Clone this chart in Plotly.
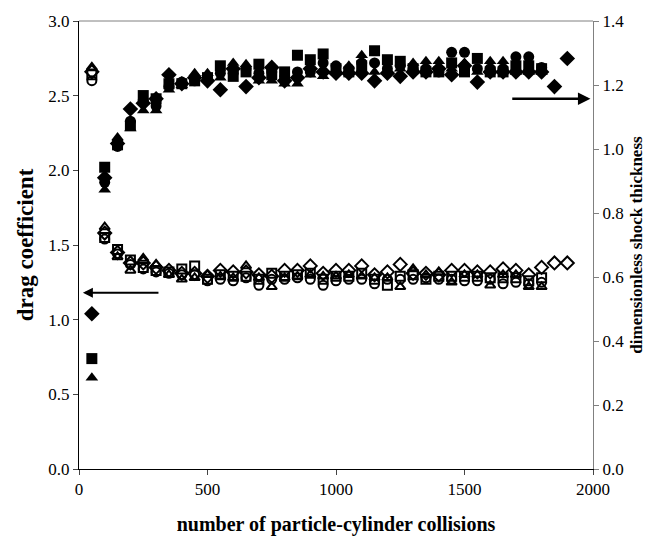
import plotly.graph_objects as go

# x positions (number of collisions)
x_main = [50, 100, 150, 200, 250, 300, 350, 400, 450, 500, 550, 600, 650, 700, 750, 800, 850, 900,
          950, 1000, 1050, 1100, 1150, 1200, 1250, 1300, 1350, 1400, 1450, 1500, 1550, 1600, 1650,
          1700, 1750, 1800]
x_long = x_main + [1850, 1900]
x_circ = x_main[1:]

# dimensionless shock thickness (right axis), filled markers
thk_diamond = [0.485, 0.910, 1.017, 1.125, 1.143, 1.157, 1.232, 1.204, 1.223, 1.213, 1.185, 1.251, 1.195,
               1.223, 1.255, 1.213, 1.223, 1.251, 1.241, 1.237, 1.237, 1.237, 1.213, 1.237, 1.227, 1.241,
               1.241, 1.251, 1.232, 1.260, 1.209, 1.241, 1.241, 1.241, 1.241, 1.241, 1.195, 1.283]
thk_square = [0.345, 0.943, 1.013, 1.073, 1.167, 1.157, 1.204, 1.204, 1.213, 1.223, 1.260, 1.227, 1.241,
              1.265, 1.232, 1.241, 1.293, 1.279, 1.297, 1.251, 1.241, 1.260, 1.307, 1.279, 1.274, 1.251,
              1.241, 1.241, 1.269, 1.241, 1.283, 1.241, 1.241, 1.260, 1.260, 1.251]
thk_triangle = [0.285, 0.873, 1.036, 1.064, 1.120, 1.120, 1.185, 1.199, 1.237, 1.237, 1.223, 1.269, 1.265,
                1.213, 1.213, 1.204, 1.204, 1.232, 1.227, 1.241, 1.260, 1.293, 1.241, 1.241, 1.251, 1.269,
                1.274, 1.274, 1.251, 1.269, 1.241, 1.274, 1.274, 1.241, 1.241, 1.241]
thk_circle = [0.896, 1.008, 1.087, 1.153, 1.134, 1.195, 1.209, 1.213, 1.223, 1.237, 1.237, 1.251, 1.237,
              1.241, 1.223, 1.241, 1.241, 1.269, 1.260, 1.251, 1.269, 1.269, 1.251, 1.260, 1.251, 1.251,
              1.241, 1.302, 1.302, 1.251, 1.251, 1.251, 1.288, 1.288, 1.255]

# drag coefficient (left axis), open markers
cd_diamond = [2.66, 1.58, 1.45, 1.38, 1.38, 1.35, 1.33, 1.31, 1.31, 1.29, 1.33, 1.32, 1.32, 1.30, 1.29,
              1.33, 1.33, 1.36, 1.31, 1.33, 1.33, 1.36, 1.30, 1.32, 1.37, 1.31, 1.31, 1.30, 1.33, 1.33,
              1.32, 1.32, 1.34, 1.33, 1.30, 1.35, 1.38, 1.38]
cd_square = [2.64, 1.55, 1.47, 1.40, 1.35, 1.33, 1.32, 1.34, 1.36, 1.27, 1.30, 1.29, 1.29, 1.27, 1.31,
             1.29, 1.30, 1.31, 1.27, 1.29, 1.29, 1.31, 1.27, 1.23, 1.29, 1.30, 1.27, 1.29, 1.29, 1.29,
             1.29, 1.28, 1.28, 1.28, 1.26, 1.28]
cd_triangle = [2.69, 1.62, 1.42, 1.33, 1.41, 1.37, 1.30, 1.27, 1.28, 1.30, 1.29, 1.28, 1.36, 1.28, 1.22,
               1.28, 1.29, 1.30, 1.29, 1.29, 1.30, 1.29, 1.28, 1.28, 1.22, 1.34, 1.30, 1.32, 1.25, 1.30,
               1.30, 1.23, 1.30, 1.30, 1.22, 1.22]
cd_circle = [2.60, 1.54, 1.44, 1.37, 1.34, 1.32, 1.31, 1.30, 1.30, 1.26, 1.27, 1.26, 1.28, 1.23, 1.27,
             1.27, 1.28, 1.27, 1.23, 1.26, 1.27, 1.27, 1.24, 1.27, 1.27, 1.27, 1.28, 1.27, 1.27, 1.26,
             1.26, 1.27, 1.24, 1.25, 1.24, 1.25]

left_ticks = [0.0, 0.5, 1.0, 1.5, 2.0, 2.5, 3.0]
right_ticks = [0.0, 0.2, 0.4, 0.6, 0.8, 1.0, 1.2, 1.4]
x_ticks = [0, 500, 1000, 1500, 2000]

FONT = "Liberation Serif"

fig = go.Figure()

def add(xs, ys, sym, axis, open_=False):
    if open_:
        size = 10 if "diamond" in sym else 9
    else:
        size = 12 if "diamond" in sym else 11
    fig.add_trace(go.Scatter(
        x=xs, y=ys, mode="markers", yaxis=axis, showlegend=False,
        marker=dict(symbol=sym, size=size, color="black",
                    line=dict(color="black", width=2 if open_ else 0)),
    ))

add(x_main, cd_circle, "circle-open", "y", True)
add(x_main, cd_square, "square-open", "y", True)
add(x_main, cd_triangle, "triangle-up-open", "y", True)
add(x_long, cd_diamond, "diamond-open", "y", True)

add(x_circ, thk_circle, "circle", "y2")
add(x_main, thk_square, "square", "y2")
add(x_main, thk_triangle, "triangle-up", "y2")
add(x_long, thk_diamond, "diamond", "y2")

# arrows
fig.add_annotation(x=15, y=1.18, ax=315, ay=1.18, xref="x", yref="y", axref="x", ayref="y",
                   text="", showarrow=True, arrowhead=2, arrowsize=1, arrowwidth=2, arrowcolor="black")
fig.add_annotation(x=1990, y=2.48, ax=1680, ay=2.48, xref="x", yref="y", axref="x", ayref="y",
                   text="", showarrow=True, arrowhead=2, arrowsize=1, arrowwidth=2.5, arrowcolor="black")

# top frame line
fig.add_shape(type="line", xref="paper", yref="paper", x0=0, x1=1, y0=1, y1=1,
              line=dict(color="#808080", width=1))

fig.update_layout(
    width=654, height=543,
    margin=dict(l=79, r=61, t=18, b=71),
    paper_bgcolor="white", plot_bgcolor="white",
    font=dict(family=FONT, size=17, color="black"),
    xaxis=dict(range=[0, 2000], tickvals=x_ticks, ticks="outside", ticklen=5,
               showline=True, linecolor="black", linewidth=1, showgrid=False, zeroline=False,
               title=dict(text="<b>number of particle-cylinder collisions</b>",
                          font=dict(size=20), standoff=18)),
    yaxis=dict(range=[0, 3.0], tickvals=left_ticks, tickformat=".1f", ticks="outside", ticklen=5,
               showline=True, linecolor="black", linewidth=1, showgrid=False, zeroline=False,
               title=dict(text="<b>drag coefficient</b>", font=dict(size=23), standoff=8)),
    yaxis2=dict(range=[0, 1.4], tickvals=right_ticks, tickformat=".1f", ticks="outside", ticklen=5,
                overlaying="y", side="right", showline=True, linecolor="#808080", linewidth=1,
                tickcolor="#808080", showgrid=False, zeroline=False,
                title=dict(text="<b>dimensionless shock thickness</b>", font=dict(size=17), standoff=6)),
)

fig.write_html("out.html")
